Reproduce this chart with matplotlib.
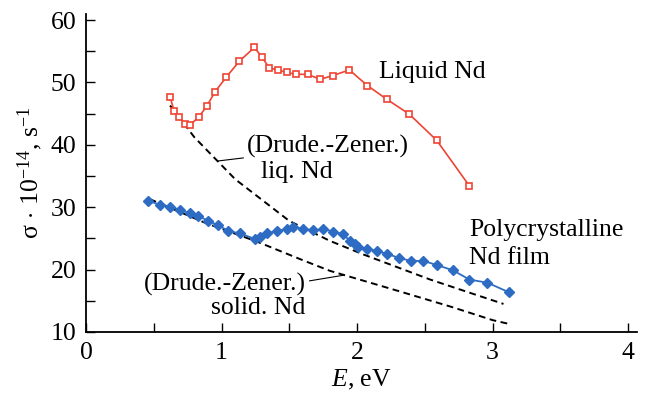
import matplotlib
matplotlib.use('Agg')
import matplotlib.pyplot as plt
from matplotlib.ticker import MultipleLocator

plt.rcParams['font.family'] = ['Liberation Serif', 'DejaVu Serif']
plt.rcParams['mathtext.fontset'] = 'custom'
plt.rcParams['mathtext.rm'] = 'Liberation Serif'
plt.rcParams['mathtext.it'] = 'Liberation Serif:italic'
plt.rcParams['font.size'] = 18.5

# liquid Nd (red open squares)
e_liq = [0.62, 0.649, 0.689, 0.731, 0.768, 0.834, 0.891, 0.952, 1.033, 1.131, 1.242,
         1.297, 1.353, 1.415, 1.481, 1.550, 1.636, 1.727, 1.821, 1.943, 2.076, 2.219,
         2.386, 2.588, 2.829]
s_liq = [47.7, 45.5, 44.5, 43.3, 43.2, 44.5, 46.2, 48.5, 50.8, 53.4, 55.6,
         54.1, 52.3, 52.0, 51.6, 51.3, 51.3, 50.5, 51.1, 52.0, 49.5, 47.3,
         44.9, 40.7, 33.4]

# polycrystalline Nd film (blue diamonds)
e_film = [0.460, 0.546, 0.620, 0.694, 0.768, 0.829, 0.903, 0.976, 1.050, 1.137, 1.247,
          1.284, 1.333, 1.407, 1.481, 1.530, 1.604, 1.678, 1.751, 1.825, 1.894, 1.948,
          1.985, 2.010, 2.076, 2.145, 2.224, 2.306, 2.396, 2.489, 2.593, 2.706, 2.829,
          2.962, 3.117]
s_film = [31.0, 30.4, 30.1, 29.6, 29.0, 28.6, 27.8, 27.1, 26.2, 25.8, 24.9,
          25.2, 25.8, 26.2, 26.5, 26.9, 26.5, 26.3, 26.5, 26.1, 25.7, 24.6,
          24.1, 23.7, 23.3, 23.0, 22.5, 21.9, 21.4, 21.4, 20.7, 19.9, 18.4,
          17.9, 16.4]

# Drude-Zener curves
e_dz_liq = [0.62, 0.80, 1.10, 1.50, 1.80, 2.05, 2.54, 2.83, 3.08]
s_dz_liq = [46.3, 41.2, 34.5, 27.8, 24.6, 22.4, 18.4, 16.3, 14.5]
e_dz_sol = [0.47, 0.89, 1.26, 1.60, 1.80, 2.30, 2.70, 3.00, 3.12]
s_dz_sol = [31.3, 27.4, 24.5, 21.5, 19.8, 16.6, 14.0, 11.9, 11.3]

fig = plt.figure(figsize=(6.48, 3.94), dpi=100)
ax = fig.add_axes([86/648, 1 - 332/394, (637 - 86)/648, (332 - 13.8)/394])

ax.plot(e_dz_liq, s_dz_liq, color='black', lw=1.4, dashes=(3.5, 2.3))
ax.plot(e_dz_sol, s_dz_sol, color='black', lw=1.4, dashes=(3.5, 2.3))
ax.plot(e_liq, s_liq, color='#EE4433', lw=1.2, marker='s', ms=4.8,
        mfc='white', mec='#EE4433', mew=1.2)
ax.plot(e_film, s_film, color='#2E6CC4', lw=1.3, marker='D', ms=5,
        mfc='#2E6CC4', mec='#2E6CC4')

# leader lines
ax.plot([0.97, 1.16], [37.4, 37.9], color='black', lw=0.8)
ax.plot([1.65, 1.90], [18.2, 19.1], color='black', lw=0.8)

ax.text(2.163, 51.7, 'Liquid Nd', va='center')
ax.text(1.188, 39.7, '(Drude.-Zener.)', va='center')
ax.text(1.29, 35.6, 'liq. Nd', va='center')
ax.text(2.829, 26.35, 'Polycrystalline', va='center')
ax.text(2.829, 21.8, 'Nd film', va='center')
ax.text(1.62, 17.7, '(Drude.-Zener.)', va='center', ha='right')
ax.text(1.615, 13.8, 'solid. Nd', va='center', ha='right')

ax.set_xlim(0, 4.065)
ax.set_ylim(10, 61)
ax.xaxis.set_major_locator(MultipleLocator(1))
ax.xaxis.set_minor_locator(MultipleLocator(0.5))
ax.yaxis.set_major_locator(MultipleLocator(10))
ax.yaxis.set_minor_locator(MultipleLocator(5))
ax.tick_params(which='both', direction='in', length=6.5, width=1.0)
ax.tick_params(axis='x', pad=7)
ax.tick_params(axis='y', pad=7)
ax.spines['top'].set_visible(False)
ax.spines['right'].set_visible(False)
ax.spines['left'].set_linewidth(1.3)
ax.spines['bottom'].set_linewidth(1.3)

ax.set_xlabel('$E$, eV', labelpad=3)
ax.set_ylabel('σ$\\,\\cdot\\,$10$^{-14}$, s$^{-1}$', labelpad=4)

fig.savefig('out.png', dpi=100)
